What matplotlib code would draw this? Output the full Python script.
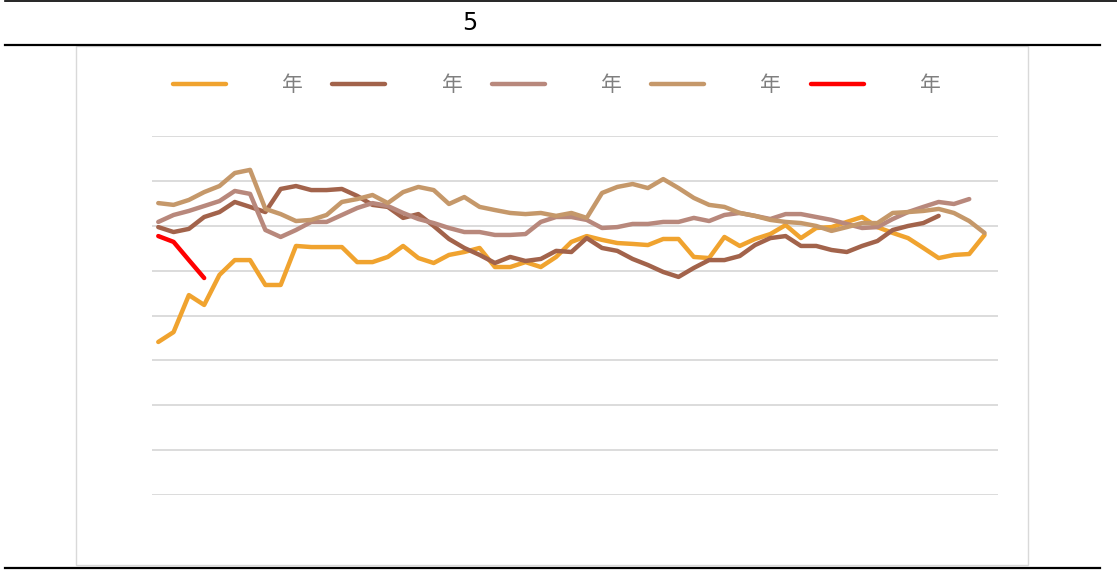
import matplotlib
matplotlib.use("Agg")
import matplotlib.pyplot as plt
from matplotlib.lines import Line2D
from matplotlib.patches import Rectangle

plt.rcParams['font.family'] = ['Noto Sans CJK SC', 'DejaVu Sans']

# weekly values, one list per year (no axis labels in the original)
s1 = [68.2, 72.6, 89.1, 84.7, 98.1, 104.7, 104.7, 93.6, 93.6, 111.0,
      110.5, 110.5, 110.5, 103.8, 103.8, 106.1, 111.0, 105.6, 103.4, 107.0,
      108.3, 110.1, 101.6, 101.6, 103.8, 101.6, 106.1, 112.8, 115.4, 113.7,
      112.3, 111.9, 111.4, 114.1, 114.1, 106.1, 105.6, 115.0, 111.0, 114.1,
      116.3, 120.3, 114.5, 119.0, 119.4, 121.7, 123.9, 119.4, 116.8, 114.5,
      110.1, 105.6, 107.0, 107.4, 115.9]
s2 = [119.4, 117.2, 118.6, 123.9, 126.1, 130.6, 128.4, 126.1, 136.4, 137.7,
      135.9, 135.9, 136.4, 133.3, 129.3, 128.4, 123.5, 125.2, 119.9, 114.1,
      110.1, 107.0, 103.4, 106.1, 104.3, 105.2, 108.8, 108.3, 114.5, 110.1,
      108.8, 105.2, 102.5, 99.4, 97.2, 101.2, 104.7, 104.7, 106.5, 111.4,
      114.5, 115.4, 111.0, 111.0, 109.2, 108.3, 111.0, 113.2, 118.1, 119.9,
      121.2, 124.4]
s3 = [121.7, 124.8, 126.6, 128.8, 131.0, 135.5, 134.2, 118.1, 115.0, 118.1,
      121.7, 121.7, 124.8, 127.9, 130.1, 128.8, 125.7, 123.0, 121.2, 119.0,
      117.2, 117.2, 115.9, 115.9, 116.3, 121.7, 123.9, 123.9, 122.6, 119.0,
      119.4, 120.8, 120.8, 121.7, 121.7, 123.5, 122.1, 124.8, 125.7, 124.4,
      123.0, 125.2, 125.2, 123.9, 122.6, 120.8, 119.0, 119.4, 123.0, 126.1,
      128.4, 130.6, 129.7, 131.9]
s4 = [130.1, 129.3, 131.5, 135.0, 137.7, 143.5, 144.9, 127.5, 125.2, 122.1,
      122.6, 124.8, 130.6, 131.9, 133.7, 130.1, 135.0, 137.3, 135.9, 129.7,
      132.8, 128.4, 127.0, 125.7, 125.2, 125.7, 124.4, 125.7, 123.5, 134.6,
      137.3, 138.6, 136.8, 140.8, 136.8, 132.4, 129.3, 128.4, 125.7, 124.4,
      122.6, 121.7, 121.2, 119.9, 117.7, 119.4, 121.2, 121.2, 125.7, 126.1,
      126.6, 127.5, 125.7, 122.1, 116.8]
s5 = [115.4, 112.8, 104.7, 96.7]

labels = ["年", "年", "年", "年", "年"]
colors = ["#F0A32F", "#A2634B", "#B8887C", "#C5986A", "#FF0000"]
title = "5"

fig = plt.figure(figsize=(11.17, 5.74), dpi=100)

# page rules and chart frame
fig.add_artist(Line2D([5 / 1117, 1.0], [1 - 1 / 574] * 2, color="black", lw=1.2))
fig.add_artist(Line2D([5 / 1117, 1100 / 1117], [1 - 45 / 574] * 2, color="black", lw=1.6))
fig.add_artist(Line2D([5 / 1117, 1100 / 1117], [1 - 568 / 574] * 2, color="black", lw=1.6))
fig.add_artist(Rectangle((76 / 1117, 1 - 565 / 574), 952 / 1117, 519 / 574,
                         fill=False, edgecolor="#d9d9d9", lw=1.0))
fig.text(470 / 1117, 1 - 23 / 574, title, ha="center", va="center", fontsize=17,
         family=["Liberation Sans Narrow", "DejaVu Sans"])

ax = fig.add_axes([152 / 1117, 79 / 574, 846 / 1117, 359 / 574])
for vals, lab, col in zip([s1, s2, s3, s4, s5], labels, colors):
    ax.plot(range(len(vals)), vals, color=col, lw=3.2, label=lab,
            solid_capstyle="round", solid_joinstyle="round")

ax.set_xlim(-0.41, 54.88)
ax.set_ylim(0, 160)
ax.set_yticks(range(0, 161, 20))
ax.yaxis.grid(True, color="#d9d9d9", lw=1.3)
ax.set_axisbelow(True)
ax.tick_params(left=False, bottom=False, labelleft=False, labelbottom=False)
for sp in ax.spines.values():
    sp.set_visible(False)

ax.legend(ncol=5, loc="center", bbox_to_anchor=(0.4985, 1 - 85 / 574),
          bbox_transform=fig.transFigure, frameon=False, fontsize=15,
          handlelength=2.55, handletextpad=2.7, columnspacing=1.4,
          labelcolor="#7f7f7f")

fig.savefig("out.png", dpi=100)
